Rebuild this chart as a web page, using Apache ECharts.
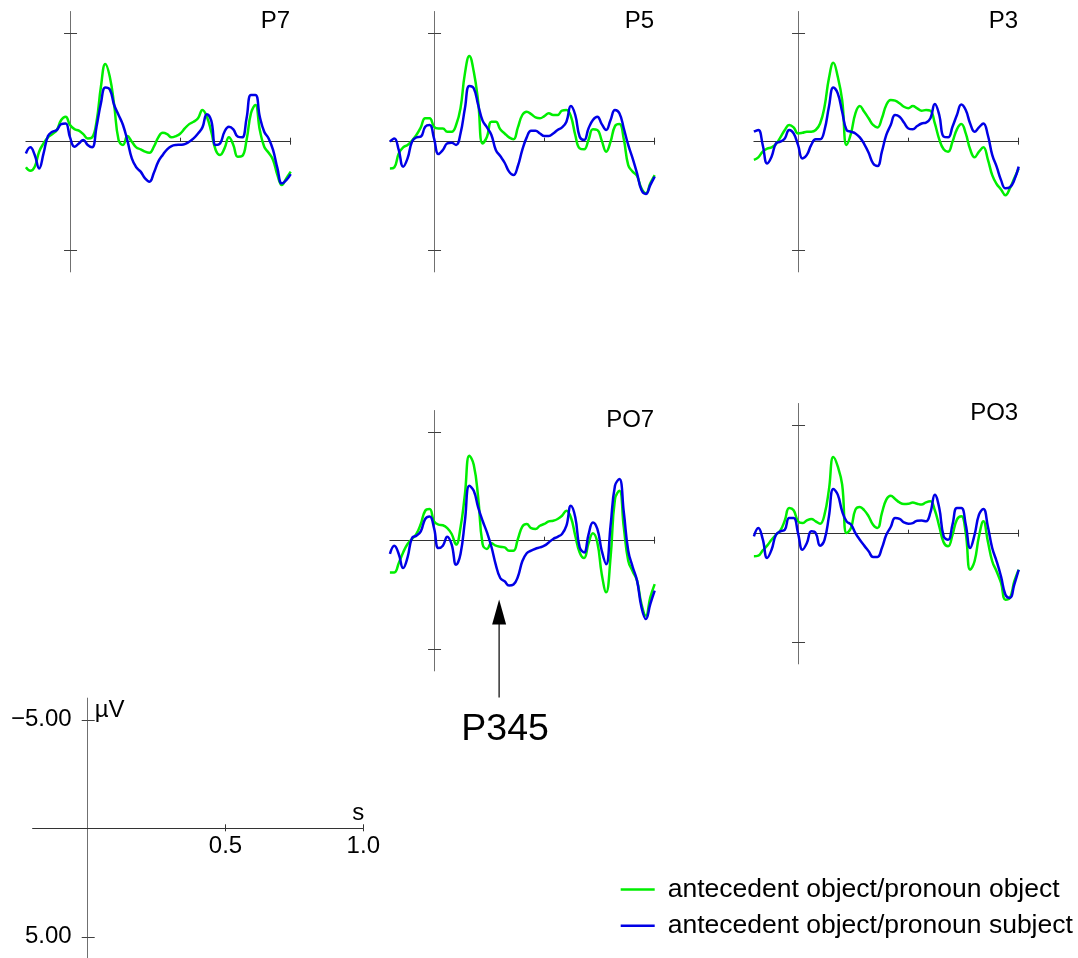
<!DOCTYPE html>
<html>
<head>
<meta charset="utf-8">
<script src="https://cdn.jsdelivr.net/npm/echarts@6/dist/echarts.min.js"></script>
<style>
html, body { margin: 0; padding: 0; background: #ffffff; }
#chart { width: 1078px; height: 958px; }
</style>
</head>
<body>
<div id="chart"></div>
<script>
// ---------------- DATA ----------------
// time axis in seconds (one sample every 20 ms)
const times = [-0.20, -0.18, -0.16, -0.14, -0.12, -0.10, -0.08, -0.06, -0.04, -0.02,
  0.00, 0.02, 0.04, 0.06, 0.08, 0.10, 0.12, 0.14, 0.16, 0.18,
  0.20, 0.22, 0.24, 0.26, 0.28, 0.30, 0.32, 0.34, 0.36, 0.38,
  0.40, 0.42, 0.44, 0.46, 0.48, 0.50, 0.52, 0.54, 0.56, 0.58,
  0.60, 0.62, 0.64, 0.66, 0.68, 0.70, 0.72, 0.74, 0.76, 0.78,
  0.80, 0.82, 0.84, 0.86, 0.88, 0.90, 0.92, 0.94, 0.96, 0.98, 1.00];

const channelNames = ['P7', 'P5', 'P3', 'PO7', 'PO3'];
const conditionNames = ['antecedent object/pronoun object', 'antecedent object/pronoun subject'];

// amplitudes in microvolts (negative plotted upward)
const p7Object = [1.18, 1.34, 1.15, 0.46, 0.08, -0.20, -0.35, -0.54, -1.00, -1.15,
  -0.77, -0.58, -0.51, -0.35, -0.15, -0.20, -0.92, -2.53, -3.58, -3.00,
  -1.69, -0.08, 0.15, -0.26, 0.00, 0.26, 0.35, 0.46, 0.51, 0.23,
  -0.20, -0.41, -0.35, -0.20, -0.26, -0.38, -0.61, -0.81, -0.92, -1.08,
  -1.46, -1.15, -0.46, 0.38, 0.61, 0.31, -0.20, 0.15, 0.69, 0.66,
  -0.08, -1.31, -1.69, -0.54, 0.23, 0.51, 0.84, 1.54, 2.00, 1.69, 1.38];
const p7Subject = [0.54, 0.26, 0.61, 1.23, 0.54, -0.26, -0.46, -0.54, -0.81, -0.84,
  -0.20, 0.23, 0.08, -0.08, 0.15, 0.26, -0.69, -1.77, -2.50, -2.41,
  -1.69, -1.23, -0.77, -0.05, 0.77, 1.18, 1.38, 1.69, 1.84, 1.43,
  0.92, 0.61, 0.35, 0.20, 0.15, 0.14, 0.11, 0.00, -0.15, -0.38,
  -0.66, -1.27, -0.97, 0.15, 0.08, -0.46, -0.69, -0.57, -0.23, -0.20,
  -1.08, -2.15, -2.15, -1.15, -0.46, -0.15, 0.38, 1.23, 1.92, 1.77, 1.49];

const p5Object = [1.23, 1.18, 0.54, 0.26, 0.15, -0.05, -0.31, -0.66, -1.08, -1.08,
  -0.69, -0.61, -0.61, -0.46, -0.46, -0.77, -1.54, -3.15, -3.95, -3.23,
  -1.84, 0.08, -0.23, -0.92, -0.92, -0.57, -0.38, -0.20, -0.11, -0.66,
  -1.23, -1.38, -1.27, -1.12, -1.08, -1.18, -1.31, -1.23, -1.23, -1.43,
  -1.46, -1.18, -0.31, 0.31, 0.35, -0.08, -0.57, -0.54, -0.05, 0.46,
  0.00, -0.72, -0.81, -0.11, 1.08, 1.38, 1.58, 2.15, 2.38, 1.92, 1.54];
const p5Subject = [0.00, -0.15, 0.38, 1.15, 0.77, 0.00, -0.20, -0.23, -0.69, -0.77,
  -0.15, 0.57, 0.38, 0.08, 0.05, 0.15, -0.38, -1.54, -2.57, -2.46,
  -1.69, -0.97, -0.66, -0.31, 0.38, 0.66, 0.97, 1.38, 1.54, 1.12,
  0.38, -0.20, -0.51, -0.51, -0.38, -0.26, -0.26, -0.38, -0.54, -0.66,
  -0.92, -1.64, -1.23, -0.23, -0.08, -0.61, -1.00, -1.15, -0.81, -0.54,
  -1.00, -1.46, -1.31, -0.61, 0.15, 0.77, 1.46, 2.23, 2.41, 2.00, 1.61];

const p3Object = [0.84, 0.72, 0.46, 0.32, 0.26, 0.11, -0.20, -0.54, -0.77, -0.66,
  -0.38, -0.41, -0.46, -0.46, -0.54, -0.84, -1.61, -2.92, -3.64, -3.00,
  -1.92, 0.15, -0.38, -1.31, -1.64, -1.38, -1.08, -0.77, -0.66, -1.08,
  -1.69, -1.92, -1.89, -1.77, -1.61, -1.54, -1.64, -1.54, -1.43, -1.46,
  -1.43, -0.84, -0.11, 0.35, 0.46, 0.00, -0.57, -0.81, -0.38, 0.35,
  0.72, 0.46, 0.26, 0.81, 1.54, 1.95, 2.20, 2.47, 2.15, 1.69, 1.23];
const p3Subject = [-0.46, -0.54, 0.15, 1.00, 0.69, 0.08, 0.00, -0.15, -0.54, -0.38,
  0.15, 0.77, 0.61, 0.15, -0.11, -0.11, -0.54, -1.61, -2.50, -2.23,
  -1.38, -0.54, -0.46, -0.38, -0.20, 0.11, 0.51, 1.00, 1.12, 0.46,
  -0.31, -0.77, -1.23, -1.15, -0.88, -0.61, -0.57, -0.72, -0.84, -0.88,
  -1.08, -1.74, -1.23, -0.23, -0.20, -0.69, -1.23, -1.71, -1.46, -0.84,
  -0.46, -0.66, -0.84, -0.31, 0.61, 1.15, 1.77, 2.15, 2.10, 1.77, 1.15];

const po7Object = [1.46, 1.46, 1.04, 0.54, 0.15, -0.08, -0.31, -0.77, -1.38, -1.46,
  -0.89, -0.74, -0.71, -0.58, -0.31, 0.18, -0.61, -2.15, -3.92, -3.50,
  -2.00, 0.15, 0.38, 0.12, 0.23, 0.28, 0.31, 0.46, 0.46, -0.08,
  -0.65, -0.77, -0.58, -0.54, -0.69, -0.77, -0.89, -0.92, -1.00, -1.15,
  -1.38, -1.08, -0.23, 0.54, 0.80, 0.12, -0.34, 0.08, 1.54, 2.38,
  0.77, -1.92, -2.30, -0.61, 0.92, 1.41, 1.84, 2.92, 3.46, 2.61, 2.00];
const po7Subject = [0.61, 0.23, 0.61, 1.26, 0.77, -0.12, -0.23, -0.43, -1.00, -1.11,
  -0.58, 0.34, 0.23, -0.18, 0.18, 1.11, 0.61, -0.92, -2.53, -2.30,
  -1.54, -0.92, -0.38, 0.28, 1.11, 1.72, 1.87, 2.07, 2.02, 1.66,
  0.95, 0.58, 0.46, 0.37, 0.31, 0.23, 0.08, -0.08, -0.18, -0.31,
  -0.69, -1.61, -1.08, 0.31, 0.54, -0.28, -0.84, -0.54, 0.46, 1.08,
  -0.69, -2.53, -2.84, -1.31, 0.46, 1.20, 1.84, 3.07, 3.61, 2.92, 2.30];

const po3Object = [1.04, 1.01, 0.77, 0.55, 0.28, 0.05, -0.15, -0.61, -1.18, -1.08,
  -0.57, -0.49, -0.61, -0.68, -0.57, -0.46, -0.88, -2.03, -3.53, -3.10,
  -2.26, -0.03, -0.26, -1.11, -1.23, -1.08, -0.80, -0.41, -0.26, -0.95,
  -1.57, -1.75, -1.60, -1.44, -1.37, -1.38, -1.44, -1.38, -1.34, -1.44,
  -1.49, -1.08, -0.34, 0.40, 0.58, 0.05, -0.65, -0.80, -0.03, 1.66,
  1.27, 0.12, -0.57, 0.35, 1.27, 1.74, 2.27, 3.04, 2.96, 2.20, 1.66];
const po3Subject = [0.12, -0.26, 0.25, 1.12, 0.74, 0.05, -0.11, -0.18, -0.72, -0.72,
  -0.03, 0.74, 0.43, -0.11, -0.03, 0.55, 0.28, -0.80, -2.06, -1.80,
  -1.03, -0.57, -0.42, -0.03, 0.28, 0.55, 0.81, 1.07, 1.07, 0.66,
  0.05, -0.31, -0.72, -0.68, -0.52, -0.46, -0.49, -0.60, -0.61, -0.57,
  -0.98, -1.80, -1.18, 0.12, 0.28, -0.42, -1.18, -1.18, -0.42, 0.66,
  0.05, -0.88, -1.14, -0.34, 0.66, 1.27, 1.97, 2.81, 2.96, 2.35, 1.66];

// axis ticks
const timeTicks = [0.5, 1.0];
const ampTicks = [-5, 5];
const annotationText = 'P345';
const annotationTime = 0.295;

// ---------------- LAYOUT / STYLE ----------------
const W = 1078;
const FONT = '"Liberation Sans", Arial, Helvetica, sans-serif';
const GREEN = '#00ee00';
const BLUE = '#0000e6';
const X_LINE = '#333333';
const Y_LINE = '#707070';
const T_MIN = -0.2, T_MAX = 1.0, V_MIN = -6, V_MAX = 6;
const channelValues = [
  [p7Object, p7Subject], [p5Object, p5Subject], [p3Object, p3Subject],
  [po7Object, po7Subject], [po3Object, po3Subject]
];
// pixel boxes of the small panels (left, top)
const panelBoxes = [
  { left: 25.9, top: 11.5 }, { left: 389.9, top: 11.5 }, { left: 753.9, top: 11.5 },
  { left: 389.9, top: 410.5 }, { left: 753.9, top: 403.5 }
];
const PANEL_W = 264.8, PANEL_H = 260.4;
const scaleBox = { left: 32.6, top: 698.1, width: 330.7, height: 260.4 };

const grids = [], xAxes = [], yAxes = [], series = [], titles = [];

function addAxes(g, isScale, w, h) {
  const xi = xAxes.length, yi = yAxes.length;
  // axes sit at t = 0 and v = 0 : offsets derived from the axis ranges
  const xOff = -((0 - V_MIN) / (V_MAX - V_MIN)) * h;   // move x axis up to v = 0
  const yOff = -((0 - T_MIN) / (T_MAX - T_MIN)) * w;   // move y axis right to t = 0
  const common = { gridIndex: g, type: 'value', splitLine: { show: false } };
  xAxes.push(Object.assign({}, common, {
    min: T_MIN, max: T_MAX, position: 'bottom', offset: xOff,
    axisLine: { onZero: false, lineStyle: { color: X_LINE, width: 1 } },
    axisTick: { show: true, customValues: isScale ? timeTicks : [timeTicks[1]], length: 3, lineStyle: { color: X_LINE } },
    axisLabel: isScale ? {
      show: true, customValues: timeTicks, formatter: v => v.toFixed(1),
      fontSize: 24, color: '#000', fontFamily: FONT, margin: 6
    } : { show: false },
    name: isScale ? 's' : '', nameLocation: 'end', nameGap: 0,
    nameTextStyle: { fontSize: 24, color: '#000', fontFamily: FONT, align: 'right', verticalAlign: 'bottom', padding: [0, -1, 3, 0] }
  }));
  xAxes.push(Object.assign({}, common, {
    min: T_MIN, max: T_MAX, position: 'bottom', offset: xOff,
    axisLine: { show: false, onZero: false },
    axisTick: { show: true, inside: true, customValues: timeTicks, length: 4, lineStyle: { color: X_LINE } },
    axisLabel: { show: false }
  }));
  yAxes.push(Object.assign({}, common, {
    min: V_MIN, max: V_MAX, inverse: true, position: 'left', offset: yOff,
    axisLine: { onZero: false, lineStyle: { color: Y_LINE, width: 1 } },
    axisTick: { show: true, customValues: ampTicks, length: 6, lineStyle: { color: '#404040' } },
    axisLabel: isScale ? {
      show: true, customValues: ampTicks,
      formatter: v => (v < 0 ? '\u2212' : '') + Math.abs(v).toFixed(2),
      fontSize: 24, color: '#000', fontFamily: FONT, margin: 16
    } : { show: false },
    name: isScale ? '\u00b5V' : '', nameLocation: 'start', nameGap: 0,
    nameTextStyle: { fontSize: 24, color: '#000', fontFamily: FONT, align: 'left', verticalAlign: 'top', padding: [0, 0, 0, 7] }
  }));
  yAxes.push(Object.assign({}, common, {
    min: V_MIN, max: V_MAX, inverse: true, position: 'left', offset: yOff,
    axisLine: { show: false, onZero: false },
    axisTick: { show: true, inside: true, customValues: ampTicks, length: 7, lineStyle: { color: '#404040' } },
    axisLabel: { show: false }
  }));
  return { xi, yi };
}

panelBoxes.forEach((box, g) => {
  grids.push({ left: box.left, top: box.top, width: PANEL_W, height: PANEL_H, containLabel: false, outerBoundsMode: 'none' });
  const { xi, yi } = addAxes(g, false, PANEL_W, PANEL_H);
  channelValues[g].forEach((vals, k) => {
    series.push({
      type: 'line', name: conditionNames[k], xAxisIndex: xi, yAxisIndex: yi,
      data: times.map((t, i) => [t, vals[i]]),
      showSymbol: false, symbol: 'none', smooth: 0.45,
      lineStyle: { width: 2.5, color: k === 0 ? GREEN : BLUE },
      itemStyle: { color: k === 0 ? GREEN : BLUE },
      silent: true, z: 3 + k
    });
  });
  titles.push({
    text: channelNames[g], right: W - (box.left + PANEL_W) + 0.5, top: box.top - 2, padding: 0,
    textStyle: { fontSize: 24, fontWeight: 'normal', color: '#000', fontFamily: FONT }
  });
});
// scale panel
grids.push({ left: scaleBox.left, top: scaleBox.top, width: scaleBox.width, height: scaleBox.height, containLabel: false, outerBoundsMode: 'none' });
addAxes(panelBoxes.length, true, scaleBox.width, scaleBox.height);

const chart = echarts.init(document.getElementById('chart'), null, { renderer: 'canvas' });
chart.setOption({
  backgroundColor: '#ffffff',
  animation: false,
  textStyle: { fontFamily: FONT },
  title: titles,
  grid: grids,
  xAxis: xAxes,
  yAxis: yAxes,
  series: series,
  legend: {
    data: conditionNames, orient: 'vertical', left: 620.7, top: 876, padding: 0,
    icon: 'rect', itemWidth: 34, itemHeight: 2.5, itemGap: 9.3,
    textStyle: { fontSize: 26.5, color: '#000', fontFamily: FONT, lineHeight: 27, padding: [0, 0, 0, 8] },
    selectedMode: false
  }
});

// arrow annotation under PO7, placed at the P345 latency via the PO7 x axis
const ax = chart.convertToPixel({ xAxisIndex: 6 }, annotationTime);
chart.setOption({
  graphic: [
    { type: 'line', shape: { x1: ax, y1: 697.5, x2: ax, y2: 620 }, style: { stroke: '#333', lineWidth: 1.5 }, silent: true },
    { type: 'polygon', shape: { points: [[ax, 599.5], [ax - 7, 624.5], [ax + 7, 624.5]] }, style: { fill: '#000' }, silent: true },
    { type: 'text', x: ax + 6, y: 730, style: { text: annotationText, fontSize: 37.5, fontFamily: FONT, fill: '#000', align: 'center', verticalAlign: 'middle' }, silent: true }
  ]
});
</script>
</body>
</html>
